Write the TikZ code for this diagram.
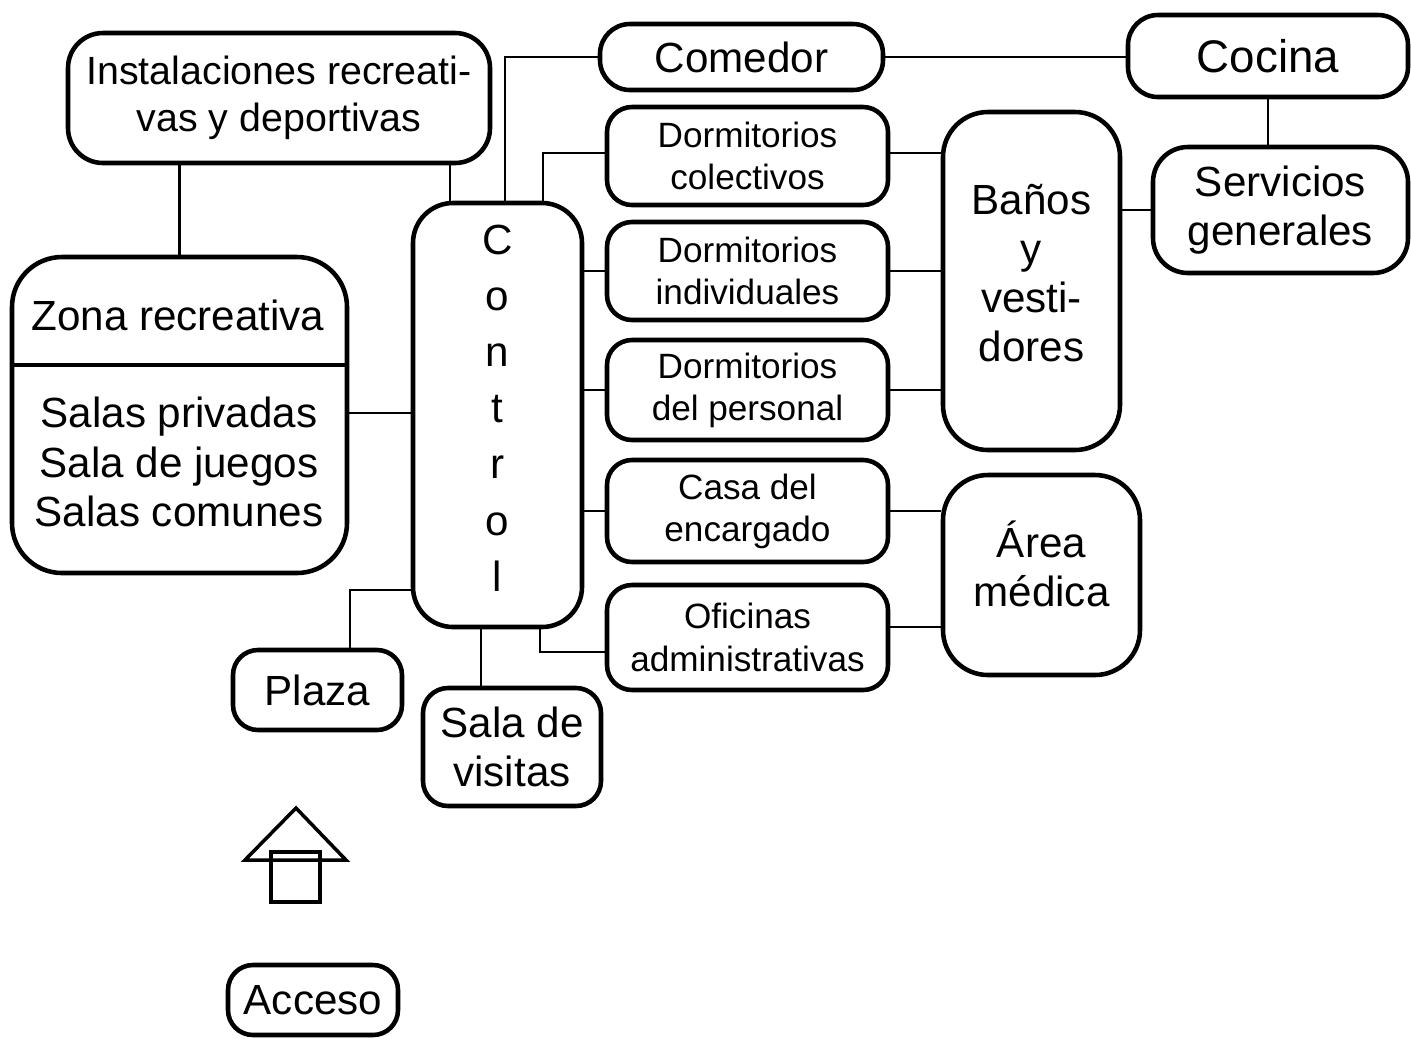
\documentclass[tikz,border=0pt]{standalone}
\usepackage{fontspec}
\setmainfont{Liberation Sans}
\begin{document}
\begin{tikzpicture}[x=1cm,y=1cm,
  box/.style={draw, line width=1.3pt, rounded corners=#1, align=center, inner sep=0pt},
  box/.default=0.25cm,
  conn/.style={line width=0.7pt},
  big/.style={font=\fontsize{12}{14}\selectfont},
  small/.style={font=\fontsize{10}{12}\selectfont},
  txt/.style={align=center, inner sep=0pt}]
\useasboundingbox (0,0) rectangle (14.11,-10.38);

% boxes
\node[box=0.35cm, big, minimum width=4.22cm, minimum height=1.30cm,
  font=\fontsize{11.2}{13.4}\selectfont] (instal) at (2.79,-0.98)
  {Instalaciones recreati-\\vas y deportivas};
\node[box=0.5cm, minimum width=3.35cm, minimum height=3.16cm] (zona) at (1.795,-4.15) {};
\node[txt, big] (zonat) at (1.78,-3.15) {Zona recreativa};
\node[txt, font=\fontsize{12}{14}\selectfont] (zonab) at (1.79,-4.62) {Salas privadas\\Sala de juegos\\Salas comunes};
\node[box=0.4cm, font=\fontsize{12}{16}\selectfont, minimum width=1.69cm, minimum height=4.24cm] (control) at (4.975,-4.15)
  {C\\o\\n\\t\\r\\o\\l\\[-12pt]\mbox{}};
\node[box=0.3cm, big, minimum width=2.83cm, minimum height=0.66cm] (comedor) at (7.415,-0.57) {Comedor};
\node[box=0.3cm, font=\fontsize{13}{15}\selectfont, minimum width=2.80cm, minimum height=0.82cm] (cocina) at (12.68,-0.56) {Cocina};
\node[box=0.35cm, big, minimum width=2.55cm, minimum height=1.26cm] (servicios) at (12.805,-2.10) {Servicios\\generales};
\node[box, small, minimum width=2.81cm, minimum height=0.98cm] (dormcol) at (7.475,-1.56) {Dormitorios\\colectivos};
\node[box, small, minimum width=2.81cm, minimum height=0.98cm] (dormind) at (7.475,-2.71) {Dormitorios\\individuales};
\node[box, small, minimum width=2.81cm, minimum height=1.00cm] (dormper) at (7.475,-3.90) {Dormitorios\\del personal};
\node[box, small, minimum width=2.81cm, minimum height=1.02cm] (casa) at (7.475,-5.11) {Casa del\\encargado};
\node[box, small, minimum width=2.81cm, minimum height=1.05cm] (oficinas) at (7.475,-6.375) {Oficinas\\administrativas};
\node[box=0.45cm, font=\fontsize{12}{14}\selectfont, minimum width=1.77cm, minimum height=3.38cm] (banos) at (10.315,-2.81)
  {Baños\\y\\vesti-\\dores\\[-9.4pt]\mbox{}};
\node[box=0.45cm, big, minimum width=1.97cm, minimum height=2.00cm] (area) at (10.415,-5.75) {Área\\médica\\[-7.7pt]\mbox{}};
\node[box, big, minimum width=1.69cm, minimum height=0.80cm] (plaza) at (3.175,-6.90) {Plaza};
\node[box, big, minimum width=1.78cm, minimum height=1.18cm] (sala) at (5.12,-7.47) {Sala de\\visitas};
\node[box, big, minimum width=1.70cm, minimum height=0.70cm] (acceso) at (3.13,-10.00) {Acceso};

% zona divider
\coordinate (zdiv) at (0,-3.65);
\draw[line width=1.2pt] (zona.west |- zdiv) -- (zona.east |- zdiv);

% helper coordinates
\coordinate (xa) at (4.50,0);
\coordinate (xb) at (5.05,0);
\coordinate (xc) at (5.43,0);
\coordinate (xd) at (5.40,0);
\coordinate (xe) at (3.50,0);
\coordinate (xf) at (4.81,0);
\coordinate (yplaza) at (0,-5.90);
\coordinate (yofi) at (0,-6.52);
\coordinate (yofi2) at (0,-6.27);
\coordinate (ycol) at (0,-1.53);
\coordinate (yzona) at (0,-4.13);

% connectors
\draw[conn] (instal.south -| zona.north) -- (zona.north);
\draw[conn] (xa |- instal.south) -- (xa |- control.north);
\draw[conn] (xb |- control.north) |- (comedor.west);
\draw[conn] (comedor.east) -- (comedor.east -| cocina.west);
\draw[conn] (cocina.south) -- (cocina.south |- servicios.north);
\draw[conn] (banos.east |- servicios.west) -- (servicios.west);
\draw[conn] (xc |- control.north) |- (dormcol.west |- ycol);
\draw[conn] (dormind.west -| control.east) -- (dormind.west);
\draw[conn] (dormper.west -| control.east) -- (dormper.west);
\draw[conn] (casa.west -| control.east) -- (casa.west);
\draw[conn] (xd |- control.south) |- (oficinas.west |- yofi);
\draw[conn] (dormcol.east |- ycol) -- (banos.west |- ycol);
\draw[conn] (dormind.east) -- (dormind.east -| banos.west);
\draw[conn] (dormper.east) -- (dormper.east -| banos.west);
\draw[conn] (casa.east) -- (casa.east -| area.west);
\draw[conn] (oficinas.east |- yofi2) -- (area.west |- yofi2);
\draw[conn] (zona.east |- yzona) -- (control.west |- yzona);
\draw[conn] (xe |- plaza.north) |- (control.west |- yplaza);
\draw[conn] (xf |- control.south) -- (xf |- sala.north);

% entrance icon
\draw[line width=1pt] (2.96,-8.08) -- (3.46,-8.60) -- (2.45,-8.60) -- cycle;
\draw[line width=1pt] (2.71,-8.52) rectangle (3.20,-9.02);
\end{tikzpicture}
\end{document}
